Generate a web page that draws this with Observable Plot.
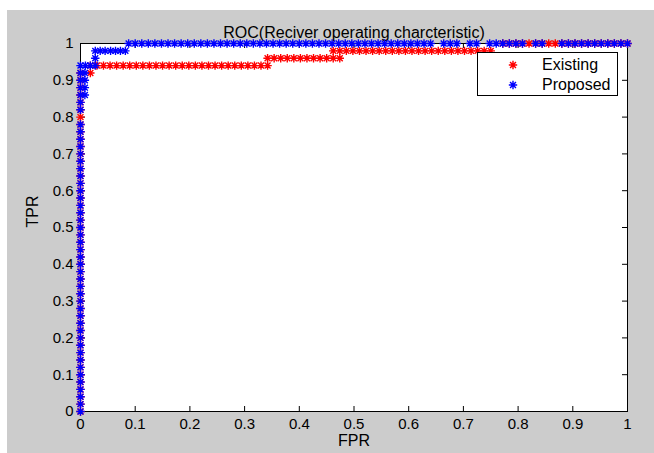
<!DOCTYPE html>
<html>
<head>
<meta charset="utf-8">
<script src="https://cdn.jsdelivr.net/npm/d3@7"></script>
<script src="https://cdn.jsdelivr.net/npm/@observablehq/plot@0.6"></script>
<style>
  html, body { margin: 0; padding: 0; background: #ffffff; }
  #wrap { position: absolute; left: 7px; top: 10px; width: 647px; height: 443px; background: #cccccc; }
  #legend { position: absolute; left: 477px; top: 52px; width: 141px; height: 44px; box-sizing: border-box;
            border: 1px solid #000; background: #fff; font-family: 'Liberation Sans', Arial, sans-serif; font-size: 16px; color: #000; }
  #legend .row { position: absolute; left: 0; height: 20px; width: 100%; }
  #legend svg { position: absolute; left: 29px; top: 4px; }
  #legend span { position: absolute; left: 64px; top: 1px; line-height: 18px; }
</style>
</head>
<body>
<div id="wrap"></div>
<div id="legend"></div>
<script>
// ---- data ----
const titleText = "ROC(Reciver operating charcteristic)";
const xLabel = "FPR";
const yLabel = "TPR";
const seriesNames = ["Existing", "Proposed"];
const seriesColors = ["#ff0000", "#0000ff"];

const xTicks = [0, 0.1, 0.2, 0.3, 0.4, 0.5, 0.6, 0.7, 0.8, 0.9, 1];
const xTickLabels = ["0", "0.1", "0.2", "0.3", "0.4", "0.5", "0.6", "0.7", "0.8", "0.9", "1"];
const yTicks = [0, 0.1, 0.2, 0.3, 0.4, 0.5, 0.6, 0.7, 0.8, 0.9, 1];
const yTickLabels = ["0", "0.1", "0.2", "0.3", "0.4", "0.5", "0.6", "0.7", "0.8", "0.9", "1"];

const existingFPR = [
  0,0,0,0,0,0,0,0,0,0, 0,0,0,0,0,0,0,0,0,0, 0,0,0,0,0,0,0,0,0,0, 0,0,0,0,0,0,0,0,0,0, 0,
  0,0,0,0,0,0,
  0.018,
  0.018,0.030,0.042,0.054,0.066,0.078,0.090,0.102,0.114,0.126,0.138,0.150,0.162,0.174,0.186,0.198,0.210,0.222,0.234,0.246,0.258,0.270,0.282,0.294,0.306,0.318,0.330,0.342,
  0.342,0.354,0.366,0.378,0.390,0.402,0.414,0.426,0.438,0.450,0.462,0.474,
  0.462,0.474,0.486,0.498,0.510,0.522,0.534,0.546,0.558,0.570,0.582,0.594,0.606,0.618,0.630,0.642,0.654,0.666,0.678,0.690,0.702,0.714,0.726,0.738,0.750,
  0.772,0.784,0.796,0.808,0.820,0.832,0.844,0.856,0.868,0.880,0.892,0.904,0.916,0.928,0.940,0.952,0.964,0.976,0.988,1.000
];
const existingTPR = [
  0,0.02,0.04,0.06,0.08,0.10,0.12,0.14,0.16,0.18, 0.20,0.22,0.24,0.26,0.28,0.30,0.32,0.34,0.36,0.38,
  0.40,0.42,0.44,0.46,0.48,0.50,0.52,0.54,0.56,0.58, 0.60,0.62,0.64,0.66,0.68,0.70,0.72,0.74,0.76,0.78, 0.80,
  0.82,0.84,0.86,0.88,0.90,0.92,
  0.92,
  0.94,0.94,0.94,0.94,0.94,0.94,0.94,0.94,0.94,0.94,0.94,0.94,0.94,0.94,0.94,0.94,0.94,0.94,0.94,0.94,0.94,0.94,0.94,0.94,0.94,0.94,0.94,0.94,
  0.96,0.96,0.96,0.96,0.96,0.96,0.96,0.96,0.96,0.96,0.96,0.96,
  0.98,0.98,0.98,0.98,0.98,0.98,0.98,0.98,0.98,0.98,0.98,0.98,0.98,0.98,0.98,0.98,0.98,0.98,0.98,0.98,0.98,0.98,0.98,0.98,0.98,
  1,1,1,1,1,1,1,1,1,1,1,1,1,1,1,1,1,1,1,1
];

const proposedFPR = [
  0,0,0,0,0,0,0,0,0,0, 0,0,0,0,0,0,0,0,0,0, 0,0,0,0,0,0,0,0,0,0, 0,0,0,0,0,0,0,0,0,0, 0,0,0,0,0,0,
  0.008,0.008,0.008,0.008,
  0,0.009,0.018,0.027,
  0.027,
  0.027,0.036,0.045,0.055,0.064,0.073,0.082,
  0.088,0.100,0.112,0.124,0.136,0.148,0.160,0.172,0.184,0.196,
  0.208,0.220,0.232,0.244,0.256,0.268,0.280,0.292,0.304,0.316,
  0.328,0.340,0.352,0.364,0.376,0.388,0.400,0.412,0.424,0.436,
  0.448,0.460,0.472,0.484,0.496,0.508,0.520,0.532,0.544,0.556,
  0.568,0.580,0.592,0.604,0.616,0.628,0.640,0.664,0.676,0.688,
  0.712,0.724,0.748,0.760,0.772,0.784,0.796,0.808,0.832,0.844,
  0.880,0.892,0.904,0.916,0.928,0.940,0.952,0.964,0.976,0.988,
  1.000
];
const proposedTPR = [
  0,0.02,0.04,0.06,0.08,0.10,0.12,0.14,0.16,0.18, 0.20,0.22,0.24,0.26,0.28,0.30,0.32,0.34,0.36,0.38,
  0.40,0.42,0.44,0.46,0.48,0.50,0.52,0.54,0.56,0.58, 0.60,0.62,0.64,0.66,0.68,0.70,0.72,0.74,0.76,0.78,
  0.82,0.84,0.86,0.88,0.90,0.92,
  0.86,0.88,0.90,0.92,
  0.94,0.94,0.94,0.94,
  0.96,
  0.98,0.98,0.98,0.98,0.98,0.98,0.98,
  1,1,1,1,1,1,1,1,1,1, 1,1,1,1,1,1,1,1,1,1, 1,1,1,1,1,1,1,1,1,1, 1,1,1,1,1,1,1,1,1,1,
  1,1,1,1,1,1,1,1,1,1, 1,1,1,1,1,1,1,1,1,1, 1,1,1,1,1,1,1,1,1,1, 1
];

// ---- build ----
const existing = existingFPR.map((x, i) => ({fpr: x, tpr: existingTPR[i]}));
const proposed = proposedFPR.map((x, i) => ({fpr: x, tpr: proposedTPR[i]}));

// MATLAB-style '*' marker: plus + times
const asterisk = {
  draw(ctx, size) {
    const r = Math.sqrt(size / Math.PI);
    const d = r * 0.7071;
    ctx.moveTo(-r, 0); ctx.lineTo(r, 0);
    ctx.moveTo(0, -r); ctx.lineTo(0, r);
    ctx.moveTo(-d, -d); ctx.lineTo(d, d);
    ctx.moveTo(-d, d); ctx.lineTo(d, -d);
  }
};

const FH = 368, FW = 547, TL = 5;

const chart = Plot.plot({
  width: 647,
  height: 443,
  marginLeft: 73,
  marginRight: 27,
  marginTop: 33,
  marginBottom: 42,
  style: {background: "#cccccc", fontFamily: "'Liberation Sans', Arial, sans-serif", fontSize: "15px", color: "#000", overflow: "visible"},
  x: {domain: [0, 1]},
  y: {domain: [0, 1]},
  marks: [
    Plot.frame({fill: "white", stroke: "black"}),
    Plot.tickX(xTicks, {x: d => d, insetTop: FH - TL, stroke: "black"}),
    Plot.tickX(xTicks, {x: d => d, insetBottom: FH - TL, stroke: "black"}),
    Plot.tickY(yTicks, {y: d => d, insetRight: FW - TL, stroke: "black"}),
    Plot.tickY(yTicks, {y: d => d, insetLeft: FW - TL, stroke: "black"}),
    Plot.axisX({ticks: xTicks, tickSize: 0, tickPadding: 7, tickFormat: (d, i) => xTickLabels[i], label: null, fontSize: 15}),
    Plot.axisY({ticks: yTicks, tickSize: 0, tickPadding: 7, tickFormat: (d, i) => yTickLabels[i], label: null, fontSize: 15}),
    Plot.text([xLabel], {frameAnchor: "bottom", dy: 34, fontSize: 16, fill: "black"}),
    Plot.text([yLabel], {frameAnchor: "left", dx: -48, rotate: -90, fontSize: 16, fill: "black"}),
    Plot.text([titleText], {frameAnchor: "top", dy: -17, fontSize: 16, fill: "black"}),
    Plot.dot(existing, {x: "fpr", y: "tpr", symbol: asterisk, r: 4.2, stroke: seriesColors[0], fill: "none", strokeWidth: 1.4}),
    Plot.dot(proposed, {x: "fpr", y: "tpr", symbol: asterisk, r: 4.2, stroke: seriesColors[1], fill: "none", strokeWidth: 1.4})
  ]
});
document.getElementById("wrap").appendChild(chart);

// legend (inside the axes, as in the reference)
const legend = document.getElementById("legend");
seriesNames.forEach((name, i) => {
  const row = document.createElement("div");
  row.className = "row";
  row.style.top = (i === 0 ? 2 : 22) + "px";
  const p = d3.path();
  asterisk.draw(p, Math.PI * 17.6);
  row.innerHTML = `<svg width="12" height="12" viewBox="-6 -6 12 12"><path d="${p.toString()}" stroke="${seriesColors[i]}" fill="none" stroke-width="1.4"/></svg><span>${name}</span>`;
  legend.appendChild(row);
});
</script>
</body>
</html>
